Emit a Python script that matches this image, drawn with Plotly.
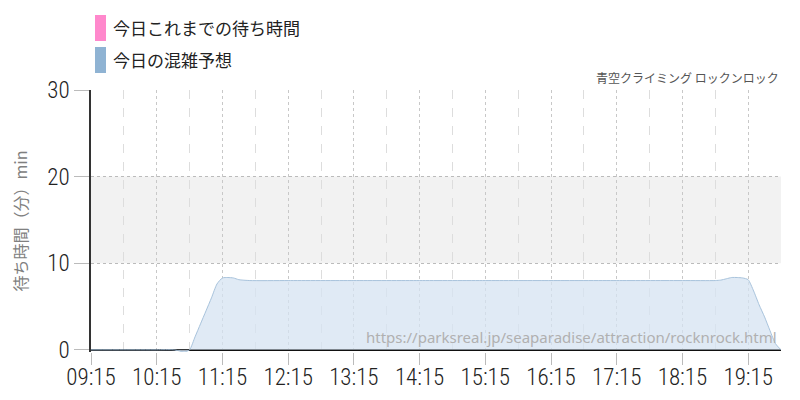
import plotly.graph_objects as go

DAY = "2024-01-01 "

# 今日の混雑予想 (分)
times = ["09:15", "09:45", "10:15", "10:30", "10:35", "10:40", "10:45", "10:50",
         "10:55", "11:00", "11:05", "11:10", "11:15", "11:20", "11:25", "11:30",
         "11:40", "12:15", "13:15", "14:15", "15:15", "16:15", "17:15", "18:15",
         "18:45", "18:50", "18:55", "19:00", "19:05", "19:10", "19:15", "19:20",
         "19:25", "19:30", "19:35", "19:40", "19:45"]
forecast = [0, 0, 0, 0, -0.1, -0.25, 0, 1.5,
            3.0, 4.5, 6.0, 7.6, 8.3, 8.35, 8.3, 8.1,
            8.0, 8.0, 8.0, 8.0, 8.0, 8.0, 8.0, 8.0,
            8.0, 8.05, 8.2, 8.35, 8.35, 8.3, 8.1, 6.8,
            5.2, 3.8, 2.2, 0.7, 0]

legend_names = ["今日これまでの待ち時間", "今日の混雑予想"]
legend_colors = ["#ff88cc", "#8fb3d3"]

title_text = "青空クライミング ロックンロック"
y_title = "待ち時間（分）min"
source_url = "https://parksreal.jp/seaparadise/attraction/rocknrock.html"

tick_font = "Roboto Condensed, Liberation Sans Narrow, Roboto, sans-serif"
jp_font = "Noto Sans CJK JP, Noto Sans, sans-serif"

# the page body has an 8px margin, so the figure is 8px smaller than the window
PLOT_L, PLOT_T, PLOT_B = 91, 90, 352
PLOT_W, PLOT_H = 690, PLOT_B - PLOT_T


def px_x(x):
    return (x - PLOT_L) / PLOT_W


def px_y(y):
    return (PLOT_B - y) / PLOT_H


fig = go.Figure()
fig.add_trace(go.Scatter(
    x=[DAY + t for t in times], y=forecast,
    mode="lines", line=dict(color="#a8c3dc", width=1, shape="spline", smoothing=0.6),
    fill="tozeroy", fillcolor="rgba(213,227,241,0.75)",
    name=legend_names[1], showlegend=False, hoverinfo="skip",
))

# 10-20分の帯
fig.add_shape(type="rect", xref="paper", yref="y", x0=0, x1=1, y0=10, y1=20,
              fillcolor="#f2f2f2", line_width=0, layer="below")

# 手作りの凡例
for i, (name, col) in enumerate(zip(legend_names, legend_colors)):
    yc = 28 + i * 32
    fig.add_shape(type="rect", xref="paper", yref="paper",
                  x0=px_x(95), x1=px_x(106), y0=px_y(yc + 13), y1=px_y(yc - 13),
                  fillcolor=col, line_width=0)
    fig.add_annotation(text=name, xref="paper", yref="paper",
                       x=px_x(111), y=px_y(yc),
                       xanchor="left", yanchor="middle", showarrow=False,
                       font=dict(family=jp_font, size=17, color="#222"))

fig.add_annotation(text=title_text, xref="paper", yref="paper", x=1, y=px_y(77),
                   xanchor="right", yanchor="middle", showarrow=False,
                   font=dict(family=jp_font, size=12, color="#555"))
fig.add_annotation(text=source_url, xref="paper", yref="paper", x=px_x(779),
                   y=px_y(337), xanchor="right", yanchor="middle", showarrow=False,
                   font=dict(family="Noto Sans, sans-serif", size=15, color="#b0b0b0"))

fig.update_xaxes(
    type="date", range=[DAY + "09:15", DAY + "19:45"], automargin=False,
    tick0=DAY + "09:15", dtick=3600000, tickformat="%H:%M",
    showgrid=True, gridcolor="#c8c8c8", griddash="dot", gridwidth=1,
    minor=dict(dtick=1800000, tick0=DAY + "09:15", showgrid=True,
               gridcolor="#dddddd", griddash="dash", gridwidth=1),
    ticks="outside", ticklen=12, tickcolor="#bbbbbb", ticklabelstandoff=-8,
    showline=False, zeroline=False,
    tickfont=dict(family=tick_font, size=23, color="#222", weight=300),
)
fig.update_yaxes(
    range=[-0.25, 30], tickvals=[0, 10, 20, 30], automargin=False,
    showgrid=True, gridcolor="#bbbbbb", griddash="dot", gridwidth=1,
    zeroline=True, zerolinecolor="#111", zerolinewidth=1.5,
    showline=True, linecolor="#333", linewidth=1.5,
    ticks="outside", ticklen=15, tickcolor="#bbbbbb",
    tickfont=dict(family=tick_font, size=23, color="#222", weight=300),
    title=dict(text=y_title, standoff=16,
               font=dict(family=jp_font, size=16, color="#808080")),
)
fig.update_layout(
    width=792, height=392,
    margin=dict(l=PLOT_L - 8, r=800 - PLOT_L - PLOT_W, t=PLOT_T - 8,
                b=400 - PLOT_B, autoexpand=False),
    plot_bgcolor="white", paper_bgcolor="white",
    showlegend=False,
)

fig.write_html("out.html")
